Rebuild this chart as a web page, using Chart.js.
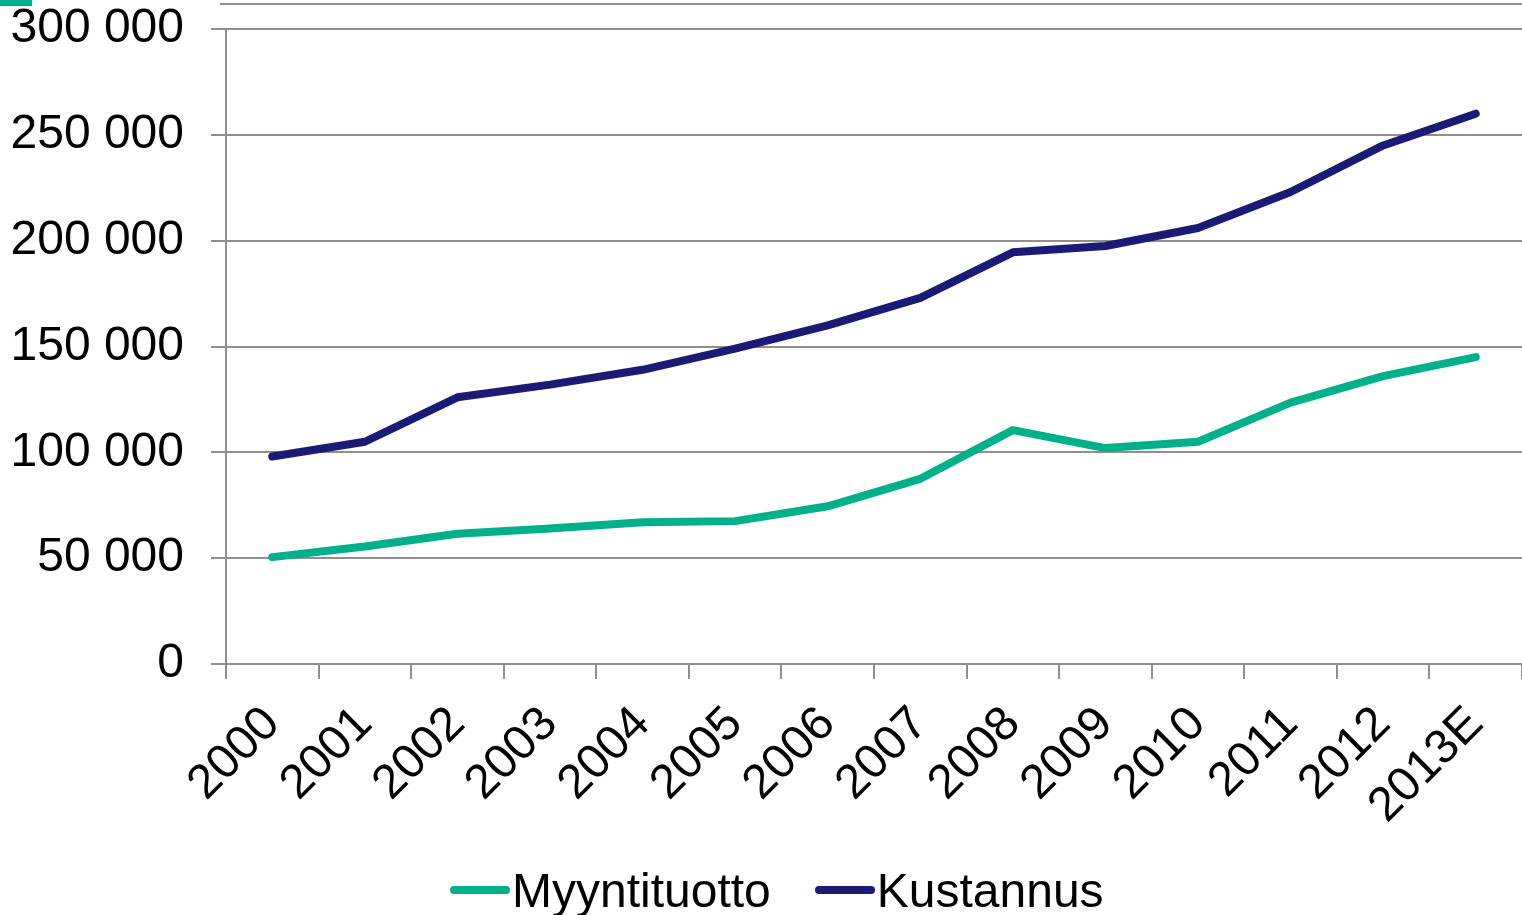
<!DOCTYPE html>
<html lang="fi">
<head>
<meta charset="UTF-8">
<title>Myyntituotto ja kustannus</title>
<script src="https://cdn.jsdelivr.net/npm/chart.js"></script>
<style>
  html, body { margin: 0; padding: 0; background: #fff; }
  .wrap { position: relative; width: 1522px; height: 915px; font-family: "Liberation Sans", Arial, sans-serif; }
  .mark { position: absolute; left: 0; top: 0; width: 32px; height: 6px; background: #00b08a; }
  .topline { position: absolute; left: 220px; top: 3px; width: 1302px; height: 2px; background: #8f8f8f; }
  #legend { position: absolute; left: 450px; top: 862px; height: 56px; display: flex; align-items: center; font-size: 48px; color: #000; white-space: nowrap; }
  #legend .item { display: flex; align-items: center; margin-right: 44px; }
  #legend .swatch { width: 60px; height: 8px; border-radius: 4px; margin-right: 2px; }
</style>
</head>
<body>
<div class="wrap">
  <div class="mark"></div>
  <div class="topline"></div>
  <canvas id="chart" width="1522" height="915"></canvas>
  <div id="legend"></div>
</div>
<script>
// data
const years = ['2000', '2001', '2002', '2003', '2004', '2005', '2006', '2007', '2008', '2009', '2010', '2011', '2012', '2013E'];
const myyntituotto = [50500, 55500, 61500, 64000, 67000, 67500, 74500, 87500, 110500, 102000, 105000, 123500, 136000, 145000];
const kustannus = [98000, 105000, 126000, 132000, 139000, 149000, 160000, 173000, 194500, 197500, 206000, 223000, 245000, 260000];
const yTicks = [0, 50000, 100000, 150000, 200000, 250000, 300000];

const gridGray = '#8f8f8f';
const fontFam = '"Liberation Sans", Arial, sans-serif';

function fmt(v) {
  return String(v).replace(/\B(?=(\d{3})+(?!\d))/g, ' ');
}

const chart = new Chart(document.getElementById('chart'), {
  type: 'line',
  data: {
    labels: years,
    datasets: [{
      label: 'Myyntituotto',
      data: myyntituotto,
      borderColor: '#00b08a',
      backgroundColor: '#00b08a',
      borderWidth: 8,
      pointRadius: 0,
      borderCapStyle: 'round',
      borderJoinStyle: 'round',
      tension: 0
    }, {
      label: 'Kustannus',
      data: kustannus,
      borderColor: '#1b1a75',
      backgroundColor: '#1b1a75',
      borderWidth: 8,
      pointRadius: 0,
      borderCapStyle: 'round',
      borderJoinStyle: 'round',
      tension: 0
    }]
  },
  options: {
    responsive: false,
    animation: false,
    layout: { padding: { top: 29, right: 0, left: 0, bottom: 0 } },
    plugins: {
      tooltip: { enabled: false },
      legend: { display: false }
    },
    scales: {
      x: {
        offset: true,
        grid: { display: true, offset: true, drawOnChartArea: false, color: gridGray, lineWidth: 2, tickLength: 15 },
        border: { color: gridGray, width: 2 },
        ticks: {
          color: '#000',
          font: { family: fontFam, size: 48 },
          maxRotation: 45,
          minRotation: 45,
          padding: 17,
          autoSkip: false
        },
        afterFit: function (scale) {
          scale.height = 251;
          scale.paddingLeft = 0;
          scale.paddingRight = 0;
        }
      },
      y: {
        min: 0,
        max: 300000,
        afterBuildTicks: function (scale) { scale.ticks = yTicks.map(v => ({ value: v })); },
        grid: { color: gridGray, lineWidth: 2, tickLength: 15 },
        border: { color: gridGray, width: 2 },
        ticks: {
          color: '#000',
          font: { family: fontFam, size: 48 },
          padding: 27,
          callback: function (v) { return fmt(v); }
        },
        afterFit: function (scale) {
          scale.width = 226;
          scale.paddingTop = 0;
          scale.paddingBottom = 0;
        }
      }
    }
  }
});

// legend built from the chart's datasets
const legendEl = document.getElementById('legend');
chart.data.datasets.forEach(function (ds) {
  const item = document.createElement('span');
  item.className = 'item';
  const sw = document.createElement('span');
  sw.className = 'swatch';
  sw.style.background = ds.borderColor;
  item.appendChild(sw);
  item.appendChild(document.createTextNode(ds.label));
  legendEl.appendChild(item);
});
</script>
</body>
</html>
